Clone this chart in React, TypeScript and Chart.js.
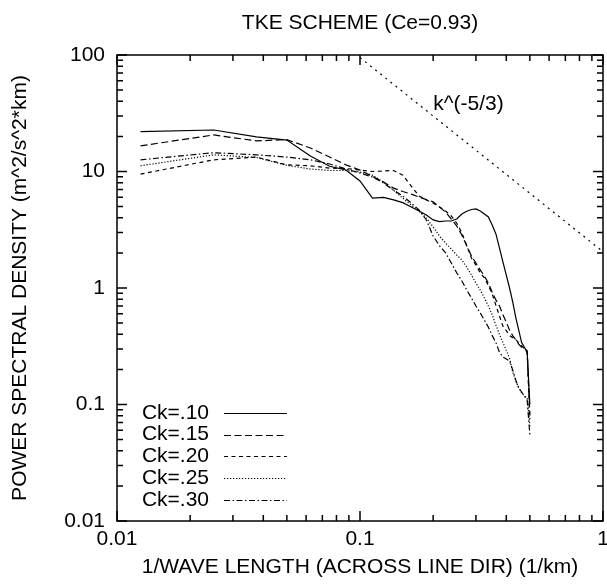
import React, { useEffect, useRef } from 'react';
import { Chart, registerables } from 'chart.js';

Chart.register(...registerables);

const FONT = '"Liberation Sans", Arial, Helvetica, sans-serif';

// wavenumber (1/km)
const wavenumbers = [
  0.0125, 0.025, 0.0375, 0.05, 0.0625, 0.075, 0.0875, 0.1, 0.1125, 0.125,
  0.1375, 0.15, 0.1625, 0.175, 0.1875, 0.2, 0.2125, 0.225, 0.2375, 0.25,
  0.2625, 0.275, 0.2875, 0.3, 0.3125, 0.325, 0.3375, 0.35, 0.3625, 0.375,
  0.3875, 0.4, 0.4125, 0.425, 0.4375, 0.45, 0.4625, 0.475, 0.4875, 0.5,
];

const ck10 = [
  22.0, 22.7, 19.8, 18.6, 13.6, 11.1, 10.3, 8.3, 5.9, 6.0,
  5.7, 5.4, 4.96, 4.58, 4.24, 3.84, 3.72, 3.76, 3.76, 3.91,
  4.32, 4.56, 4.72, 4.77, 4.58, 4.32, 4.07, 3.47, 2.91, 2.2,
  1.67, 1.29, 1.0, 0.76, 0.56, 0.435, 0.34, 0.31, 0.28, 0.1,
];

const ck15 = [
  16.6, 20.6, 18.3, 18.8, 15.9, 13.3, 11.4, 10.3, 9.06, 8.13,
  7.2, 6.73, 6.4, 6.04, 5.74, 5.5, 4.96, 4.49, 3.91, 3.41,
  2.85, 2.3, 1.88, 1.64, 1.43, 1.27, 1.1, 0.92, 0.79, 0.7,
  0.59, 0.51, 0.435, 0.39, 0.36, 0.33, 0.31, 0.3, 0.29, 0.08,
];

const ck20 = [
  9.5, 12.6, 13.3, 11.4, 11.2, 10.7, 10.6, 10.3, 10.0, 10.1,
  10.2, 9.3, 7.5, 6.16, 5.7, 5.37, 4.96, 4.58, 4.15, 3.61,
  2.97, 2.3, 1.81, 1.57, 1.35, 1.22, 1.05, 0.89, 0.71, 0.575,
  0.47, 0.43, 0.39, 0.375, 0.36, 0.34, 0.32, 0.3, 0.28, 0.075,
];

const ck25 = [
  11.2, 13.9, 13.2, 11.3, 10.5, 10.2, 10.2, 9.9, 9.3, 8.1,
  6.9, 5.9, 5.16, 4.58, 3.99, 3.34, 2.79, 2.43, 2.16, 1.92,
  1.74, 1.51, 1.29, 1.1, 0.96, 0.82, 0.7, 0.59, 0.48, 0.4,
  0.34, 0.29, 0.25, 0.19, 0.16, 0.139, 0.126, 0.118, 0.114, 0.065,
];

const ck30 = [
  12.6, 14.5, 13.9, 13.3, 12.6, 11.6, 10.5, 9.7, 8.97, 7.97,
  6.9, 6.16, 5.37, 4.67, 3.84, 2.79, 2.3, 2.0, 1.64, 1.35,
  1.15, 0.96, 0.82, 0.7, 0.61, 0.53, 0.46, 0.39, 0.34, 0.28,
  0.256, 0.246, 0.236, 0.198, 0.162, 0.139, 0.128, 0.118, 0.109, 0.055,
];

const seriesLabels = ['Ck=.10', 'Ck=.15', 'Ck=.20', 'Ck=.25', 'Ck=.30'];
const seriesValues = [ck10, ck15, ck20, ck25, ck30];
const seriesDashes: number[][] = [[], [7, 3.5], [4, 3.5], [1.2, 1.8], [6, 2.5, 1.5, 2.5]];

// k^(-5/3) reference line
const refLineX = [0.1, 1];
const refLineY = [95, 2.05];
const refLabel = 'k^(-5/3)';
const refLabelAt = { x: 0.2, y: 38 };

const xTickLabels = ['0.01', '0.1', '1'];
const yTickLabels = ['0.01', '0.1', '1', '10', '100'];
const minorSteps = [2, 3, 4, 5, 6, 7, 8, 9];

const titleText = 'TKE SCHEME (Ce=0.93)';
const xTitle = '1/WAVE LENGTH (ACROSS LINE DIR) (1/km)';
const yTitle = 'POWER SPECTRAL DENSITY (m^2/s^2*km)';

const labelFor = (labels: string[]) => (value: number | string) => {
  const v = Number(value);
  const found = labels.find((l) => Math.abs(Math.log10(Number(l)) - Math.log10(v)) < 1e-6);
  return found ?? '';
};

const tickValues = (labels: string[]) => {
  const out: { v: number; major: boolean }[] = [];
  labels.forEach((l, i) => {
    const d = Number(l);
    out.push({ v: d, major: true });
    if (i < labels.length - 1) minorSteps.forEach((m) => out.push({ v: d * m, major: false }));
  });
  return out;
};

const framePlugin = {
  id: 'frameTicks',
  afterDatasetsDraw(chart: any) {
    const { ctx, chartArea: a, scales } = chart;
    const x = scales.x;
    const y = scales.y;
    ctx.save();
    ctx.strokeStyle = '#000';
    ctx.lineWidth = 1.5;
    ctx.setLineDash([]);
    ctx.beginPath();
    for (const t of tickValues(xTickLabels)) {
      const px = x.getPixelForValue(t.v);
      const len = t.major ? 10 : 6;
      ctx.moveTo(px, a.bottom);
      ctx.lineTo(px, a.bottom - len);
      ctx.moveTo(px, a.top);
      ctx.lineTo(px, a.top + len);
    }
    for (const t of tickValues(yTickLabels)) {
      const py = y.getPixelForValue(t.v);
      const len = t.major ? 10 : 6;
      ctx.moveTo(a.left, py);
      ctx.lineTo(a.left + len, py);
      ctx.moveTo(a.right, py);
      ctx.lineTo(a.right - len, py);
    }
    ctx.stroke();
    ctx.lineWidth = 1.5;
    ctx.strokeRect(a.left, a.top, a.right - a.left, a.bottom - a.top);

    // reference label
    ctx.fillStyle = '#000';
    ctx.font = `21px ${FONT}`;
    ctx.textAlign = 'left';
    ctx.textBaseline = 'middle';
    ctx.fillText(refLabel, x.getPixelForValue(refLabelAt.x), y.getPixelForValue(refLabelAt.y));

    // legend inside the plot
    const rowH = 21.7;
    const textRight = a.left + 92;
    const lineStart = a.left + 107;
    const lineEnd = a.left + 170;
    const firstRow = a.bottom - 108;
    chart.data.datasets.forEach((ds: any, i: number) => {
      if (!ds.inLegend) return;
      const yy = firstRow + i * rowH;
      ctx.textAlign = 'right';
      ctx.fillText(ds.label, textRight, yy);
      ctx.beginPath();
      ctx.lineWidth = ds.borderWidth;
      ctx.setLineDash(ds.borderDash || []);
      ctx.moveTo(lineStart, Math.round(yy) + 0.5);
      ctx.lineTo(lineEnd, Math.round(yy) + 0.5);
      ctx.stroke();
    });
    ctx.restore();
  },
};

export default function App() {
  const canvasRef = useRef<HTMLCanvasElement | null>(null);

  useEffect(() => {
    document.body.style.margin = '0';
    const canvas = canvasRef.current;
    if (!canvas) return;

    const datasets: any[] = seriesValues.map((vals, i) => ({
      label: seriesLabels[i],
      data: wavenumbers.map((k, j) => ({ x: k, y: vals[j] })),
      borderColor: '#000',
      borderWidth: 1.2,
      borderDash: seriesDashes[i],
      pointRadius: 0,
      tension: 0,
      fill: false,
      inLegend: true,
    }));
    datasets.push({
      label: refLabel,
      data: refLineX.map((k, j) => ({ x: k, y: refLineY[j] })),
      borderColor: '#000',
      borderWidth: 1.2,
      borderDash: [2, 4.5],
      pointRadius: 0,
      tension: 0,
      fill: false,
      inLegend: false,
    });

    const chart = new Chart(canvas, {
      type: 'line',
      data: { datasets },
      plugins: [framePlugin],
      options: {
        animation: false,
        responsive: false,
        maintainAspectRatio: false,
        layout: { padding: { top: 0, right: 4, bottom: 0, left: 0 } },
        plugins: {
          legend: { display: false },
          tooltip: { enabled: false },
          title: {
            display: true,
            text: titleText,
            color: '#000',
            fullSize: false,
            font: { family: FONT, size: 21, weight: 'normal', lineHeight: 1.2 },
            padding: { top: 10.4, bottom: 19.4 },
          },
        },
        scales: {
          x: {
            type: 'logarithmic',
            min: 0.01,
            max: 1,
            grid: { display: false, drawTicks: false },
            border: { display: false },
            ticks: {
              autoSkip: false,
              maxRotation: 0,
              padding: 6,
              color: '#000',
              font: { family: FONT, size: 21, lineHeight: 1.2 },
              callback: labelFor(xTickLabels),
            },
            title: {
              display: true,
              text: xTitle,
              color: '#000',
              font: { family: FONT, size: 21, lineHeight: 1.2 },
              padding: { top: 0, bottom: 8.4 },
            },
            afterFit(scale: any) {
              scale.height = 67;
              scale.paddingLeft = 0;
              scale.paddingRight = 0;
            },
          },
          y: {
            type: 'logarithmic',
            min: 0.01,
            max: 100,
            grid: { display: false, drawTicks: false },
            border: { display: false },
            ticks: {
              autoSkip: false,
              padding: 12,
              color: '#000',
              font: { family: FONT, size: 21, lineHeight: 1.2 },
              callback: labelFor(yTickLabels),
            },
            title: {
              display: true,
              text: yTitle,
              color: '#000',
              font: { family: FONT, size: 21, lineHeight: 1.2 },
              padding: { top: 7.4, bottom: 0 },
            },
            afterFit(scale: any) {
              scale.width = 117;
              scale.paddingTop = 0;
              scale.paddingBottom = 0;
            },
          },
        },
      } as any,
    });

    return () => chart.destroy();
  }, []);

  return (
    <div style={{ width: 607, height: 588 }}>
      <canvas ref={canvasRef} width={607} height={588} style={{ display: 'block' }} />
    </div>
  );
}
